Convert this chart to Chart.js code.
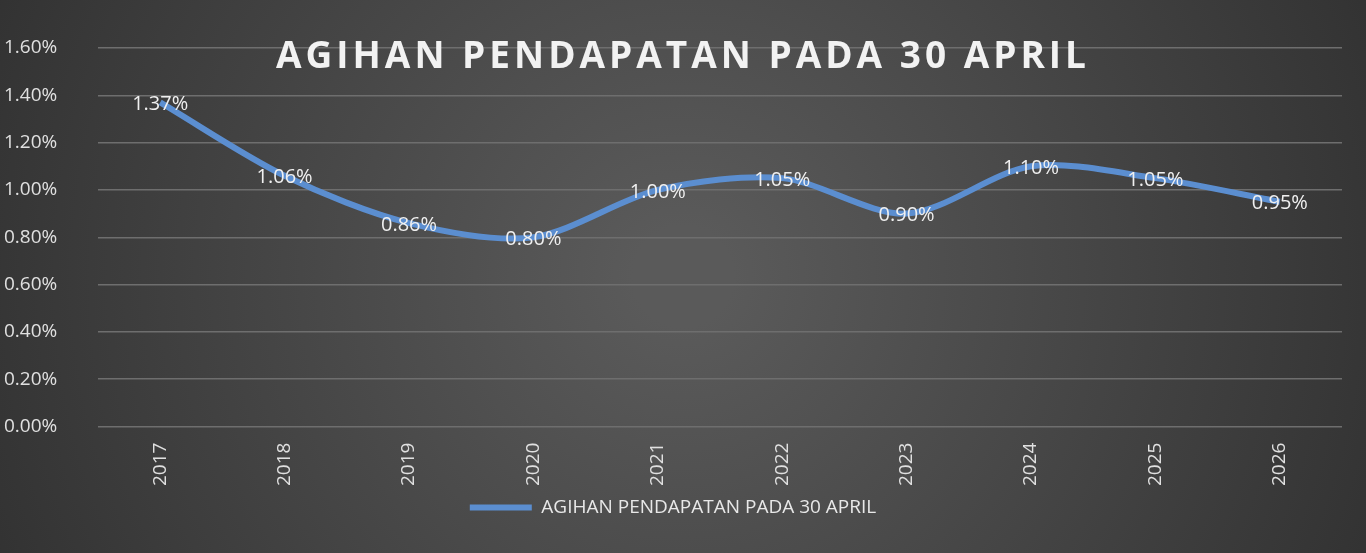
<!DOCTYPE html>
<html><head><meta charset="utf-8">
<script src="https://cdn.jsdelivr.net/npm/chart.js@4"></script>
<style>html,body{margin:0;padding:0;background:#3a3a3a}#w{width:1366px;height:553px}</style>
</head><body><div id="w"><canvas id="c"></canvas></div>
<script>
const categories = ['2017','2018','2019','2020','2021','2022','2023','2024','2025','2026'];
const values = [1.37,1.06,0.86,0.80,1.00,1.05,0.90,1.10,1.05,0.95];
const seriesName = 'AGIHAN PENDAPATAN PADA 30 APRIL';
const titleText = 'AGIHAN PENDAPATAN PADA 30 APRIL';

const bg = {id:'bg',beforeDraw(ch){const c=ch.ctx,w=ch.width,h=ch.height;
 const g=c.createRadialGradient(w/2,h/2,50,w/2,h/2,w*0.6);
 g.addColorStop(0,'#5a5a5a');g.addColorStop(1,'#2e2e2e');
 c.save();c.fillStyle=g;c.fillRect(0,0,w,h);c.restore();}};
const labels = {id:'lbl',afterDatasetsDraw(ch){const c=ch.ctx;const m=ch.getDatasetMeta(0);
 c.save();c.fillStyle='#f0f0f0';c.font='20px "Open Sans", sans-serif';c.textAlign='center';c.textBaseline='middle';
 m.data.forEach((p,i)=>c.fillText(values[i].toFixed(2)+'%',p.x,p.y+2));
 c.font='bold 37px "Open Sans", sans-serif';c.fillStyle='#f2f2f2';
 if('letterSpacing' in c) c.letterSpacing='4px';
 c.fillText(titleText,683,57);c.restore();}};

new Chart(document.getElementById('c'),{
 type:'line',
 data:{labels:categories,datasets:[{label:seriesName,data:values,borderColor:'#5b8ed0',backgroundColor:'#5b8ed0',borderWidth:6,pointRadius:0,tension:0.3}]},
 options:{responsive:true,maintainAspectRatio:false,animation:false,
  layout:{padding:{top:48,right:24,left:4,bottom:26}},
  plugins:{
   title:{display:false},
   legend:{position:'bottom',labels:{color:'#e8e8e8',font:{family:'"Open Sans", sans-serif',size:19},boxWidth:62,boxHeight:6,padding:4,
    generateLabels:()=>[{text:seriesName,fillStyle:'#5b8ed0',strokeStyle:'#5b8ed0',lineWidth:0,fontColor:'#e8e8e8'}]}},
   tooltip:{enabled:false}},
  scales:{
   x:{offset:true,grid:{display:false},border:{display:false},
      ticks:{color:'#e0e0e0',maxRotation:90,minRotation:90,font:{family:'"Open Sans", sans-serif',size:19},padding:8}},
   y:{min:0,max:1.6,grid:{color:'#6e6e6e',lineWidth:1.5,drawTicks:false},border:{display:false},
      afterFit(s){s.width=94;},
      ticks:{stepSize:0.2,color:'#e0e0e0',crossAlign:'far',padding:8,font:{family:'"Open Sans", sans-serif',size:19},callback:v=>v.toFixed(2)+'%'}}
  }},
 plugins:[bg,labels]
});
</script></body></html>
